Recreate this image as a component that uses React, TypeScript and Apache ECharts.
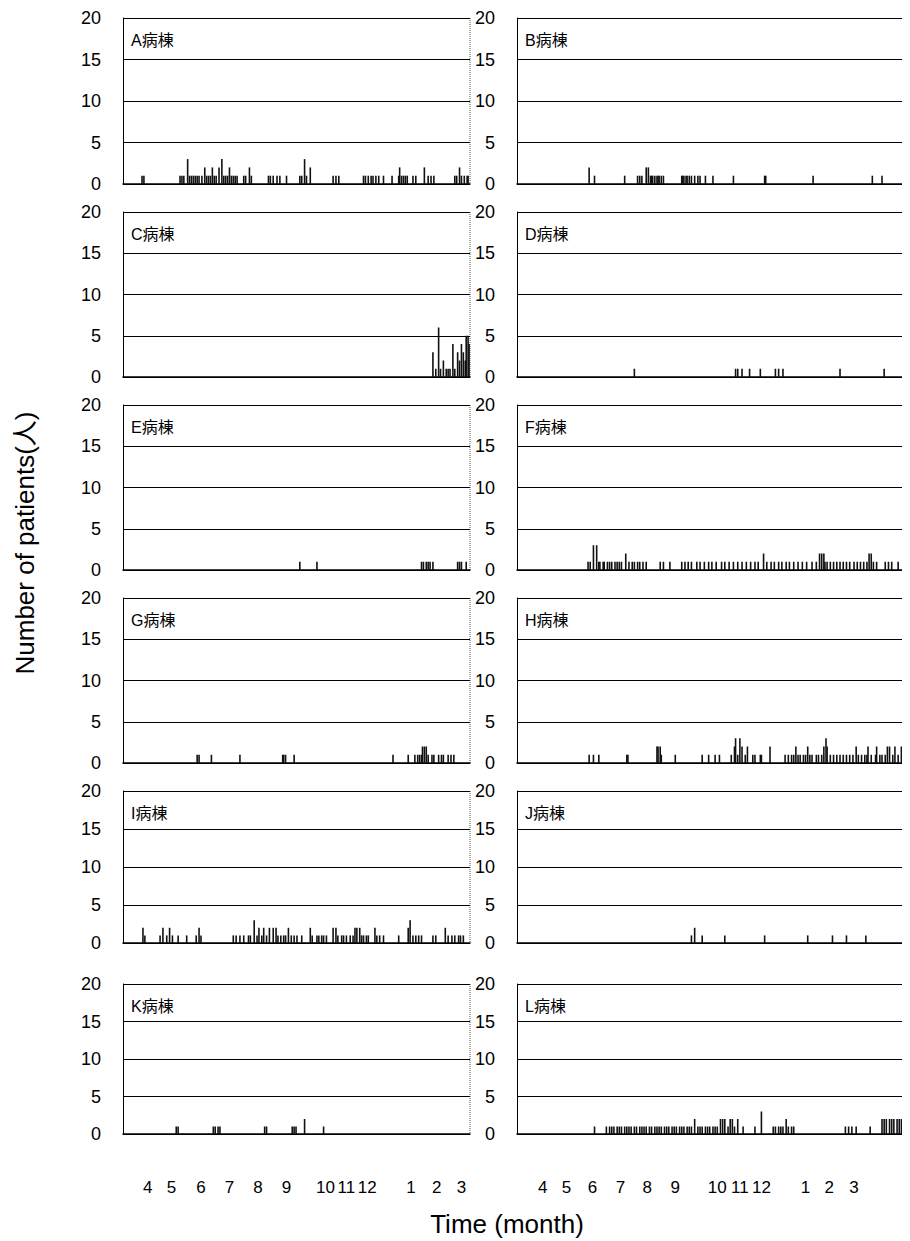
import React, { useEffect, useRef } from "react";
import * as echarts from "echarts";

// ---- DATA ----
const wards = ["A病棟", "B病棟", "C病棟", "D病棟", "E病棟", "F病棟", "G病棟", "H病棟", "I病棟", "J病棟", "K病棟", "L病棟"];
const yTicks = [0, 5, 10, 15, 20];
const monthLabels = ["4", "5", "6", "7", "8", "9", "10", "11", "12", "1", "2", "3"];
// positions (day of fiscal year) where each month label sits, left and right column
const monthLabelDaysLeft = [26, 51, 82, 112, 142, 172, 213, 235, 257, 303, 330, 356];
const monthLabelDaysRight = [24, 46, 70, 96, 121, 147, 186, 207, 227, 268, 290, 313];

// [day, patients]
const wardA = [[20,1],[22,1],[60,1],[62,1],[64,1],[68,3],[70,1],[72,1],[74,1],[76,1],[78,1],[80,1],[83,1],[86,2],[88,1],[90,1],[92,1],[94,2],[96,1],[98,1],[101,2],[104,3],[106,1],[108,1],[110,1],[112,2],[114,1],[116,1],[118,1],[120,1],[127,1],[129,1],[133,2],[135,1],[153,1],[155,1],[158,1],[162,1],[165,1],[172,1],[186,1],[188,1],[191,3],[193,1],[197,2],[221,1],[224,1],[227,1],[253,1],[255,1],[258,1],[261,1],[263,1],[266,1],[269,1],[274,1],[283,1],[290,1],[291,2],[293,1],[295,1],[297,1],[299,1],[305,1],[308,1],[317,2],[321,1],[324,1],[327,1],[349,1],[351,1],[354,2],[356,1],[359,1],[362,1],[363,1]];
const wardB = [[67,2],[72,1],[100,1],[112,1],[114,1],[116,1],[120,2],[122,2],[124,1],[125,1],[126,1],[128,1],[130,1],[131,1],[132,1],[134,1],[136,1],[153,1],[154,1],[155,1],[157,1],[158,1],[160,1],[162,1],[165,1],[168,1],[170,1],[175,1],[182,1],[201,1],[230,1],[231,1],[275,1],[330,1],[339,1],[362,1]];
const wardC = [[326,3],[329,1],[332,6],[334,1],[337,2],[340,1],[342,1],[344,1],[347,4],[349,1],[352,3],[354,2],[356,4],[358,3],[360,2],[361,5],[363,5],[364,4]];
const wardD = [[109,1],[203,1],[205,1],[209,1],[216,1],[226,1],[240,1],[243,1],[247,1],[300,1],[341,1]];
const wardE = [[186,1],[204,1],[314,1],[316,1],[319,1],[321,1],[323,1],[326,1],[352,1],[354,1],[356,1],[361,1]];
const wardF = [[66,1],[68,1],[71,3],[74,3],[76,1],[77,1],[80,1],[81,1],[84,1],[86,1],[88,1],[91,1],[93,1],[95,1],[97,1],[101,2],[104,1],[107,1],[109,1],[112,1],[114,1],[117,1],[120,1],[133,1],[136,1],[142,1],[153,1],[156,1],[159,1],[162,1],[167,1],[170,1],[174,1],[178,1],[181,1],[185,1],[190,1],[193,1],[197,1],[201,1],[205,1],[209,1],[213,1],[217,1],[221,1],[224,1],[229,2],[232,1],[236,1],[239,1],[243,1],[246,1],[250,1],[253,1],[257,1],[261,1],[265,1],[269,1],[274,1],[278,1],[281,2],[283,2],[285,2],[286,1],[288,1],[291,1],[294,1],[297,1],[300,1],[303,1],[306,1],[309,1],[313,1],[316,1],[319,1],[322,1],[325,1],[327,2],[329,2],[331,1],[334,1],[342,1],[345,1],[348,1],[354,1],[359,1],[363,1]];
const wardG = [[78,1],[80,1],[93,1],[123,1],[168,1],[169,1],[171,1],[180,1],[284,1],[300,1],[307,1],[310,1],[312,1],[314,1],[315,2],[317,2],[319,2],[321,1],[325,1],[327,1],[332,1],[335,1],[337,1],[342,1],[345,1],[348,1]];
const wardH = [[67,1],[71,1],[76,1],[102,1],[103,1],[130,2],[131,2],[133,2],[134,1],[147,1],[172,1],[178,1],[184,1],[188,1],[199,1],[202,2],[203,3],[205,1],[207,3],[209,2],[212,1],[214,2],[219,1],[221,1],[226,1],[227,1],[235,2],[249,1],[252,1],[255,1],[257,1],[259,2],[261,1],[263,1],[266,1],[268,1],[270,2],[272,1],[274,1],[278,1],[280,1],[283,1],[285,2],[287,3],[288,2],[291,1],[294,1],[297,1],[300,1],[303,1],[306,1],[309,1],[312,1],[315,2],[317,1],[320,1],[323,1],[325,1],[326,2],[329,1],[333,1],[334,2],[337,1],[339,1],[342,1],[344,2],[346,2],[349,1],[351,2],[354,1],[357,2],[360,1],[363,1]];
const wardI = [[21,2],[23,1],[39,1],[42,2],[46,1],[49,2],[52,1],[58,1],[67,1],[77,1],[80,2],[82,1],[116,1],[119,1],[123,1],[127,1],[132,1],[134,1],[138,3],[141,1],[143,2],[146,1],[148,2],[151,1],[154,2],[158,2],[161,2],[163,1],[166,1],[169,1],[171,1],[174,2],[177,1],[180,1],[183,1],[188,1],[197,2],[199,1],[204,1],[206,1],[209,1],[211,1],[214,1],[221,2],[224,2],[226,1],[230,1],[232,1],[235,1],[239,1],[242,1],[244,2],[246,2],[249,2],[251,1],[253,1],[256,1],[258,1],[265,2],[267,1],[270,1],[274,1],[290,1],[300,2],[302,3],[305,1],[308,1],[311,1],[314,1],[326,1],[329,1],[339,2],[342,1],[346,1],[349,1],[353,1],[355,1],[358,1]];
const wardJ = [[162,1],[165,2],[172,1],[193,1],[230,1],[270,1],[293,1],[306,1],[324,1]];
const wardK = [[56,1],[58,1],[95,1],[97,1],[100,1],[102,1],[149,1],[151,1],[178,1],[180,1],[182,1],[191,2],[211,1]];
const wardL = [[72,1],[83,1],[86,1],[88,1],[90,1],[93,1],[95,1],[97,1],[100,1],[102,1],[104,1],[106,1],[109,1],[111,1],[114,1],[116,1],[118,1],[120,1],[123,1],[125,1],[128,1],[130,1],[132,1],[134,1],[137,1],[139,1],[141,1],[144,1],[146,1],[148,1],[151,1],[153,1],[155,1],[158,1],[160,1],[162,1],[165,2],[168,1],[170,1],[172,1],[175,1],[177,1],[179,1],[182,1],[184,1],[186,1],[189,2],[191,2],[193,2],[196,1],[198,2],[200,2],[202,1],[205,2],[210,1],[221,1],[227,3],[238,1],[240,1],[243,1],[245,1],[247,1],[250,2],[252,1],[255,1],[257,1],[305,1],[308,1],[311,1],[315,1],[328,1],[339,2],[341,2],[343,2],[346,2],[348,2],[350,2],[353,2],[355,2],[357,2],[360,1]];
const wardData = [wardA, wardB, wardC, wardD, wardE, wardF, wardG, wardH, wardI, wardJ, wardK, wardL];

// ---- LAYOUT ----
const CW = 902;
const CH = 1233;
const OFF = 8;
const colLeft = [123 - OFF, 517 - OFF];
const colWidth = [347, 910 - 517];
const rowTop = [18, 212, 405, 598, 791, 984].map((v) => v - OFF);
const rowBottom = [184, 377, 570, 763, 943, 1134].map((v) => v - OFF);
const FONT = "'Liberation Sans', 'Noto Sans CJK JP', sans-serif";

export default function App() {
  const ref = useRef<HTMLDivElement>(null);
  useEffect(() => {
    if (!ref.current) return;
    const chart = echarts.init(ref.current, null, { renderer: "svg" });
    const grid: any[] = [];
    const xAxis: any[] = [];
    const yAxis: any[] = [];
    const series: any[] = [];
    const graphic: any[] = [];
    wardData.forEach((d, i) => {
      const col = i % 2;
      const row = Math.floor(i / 2);
      const left = colLeft[col];
      const top = rowTop[row];
      const height = rowBottom[row] - rowTop[row];
      const width = colWidth[col];
      grid.push({ left, top, width, height, containLabel: false });
      const isBottom = row === 5;
      const labelDays = col === 0 ? monthLabelDaysLeft : monthLabelDaysRight;
      xAxis.push({
        type: "value",
        gridIndex: i,
        min: 0,
        max: 365,
        splitLine: { show: false },
        axisTick: { show: false },
        axisLine: { show: true, lineStyle: { color: "#000", width: 1.5 } },
        axisLabel: isBottom
          ? {
              show: true,
              customValues: labelDays,
              formatter: (v: number) => {
                const k = labelDays.indexOf(v);
                return k >= 0 ? monthLabels[k] : "";
              },
              color: "#000",
              fontSize: 17,
              fontFamily: FONT,
              margin: 45,
            }
          : { show: false },
      });
      yAxis.push({
        type: "value",
        gridIndex: i,
        min: yTicks[0],
        max: yTicks[yTicks.length - 1],
        interval: 5,
        axisLine: { show: true, lineStyle: { color: "#000", width: 1 } },
        axisTick: { show: false },
        splitLine: { show: true, lineStyle: { color: "#000", width: 1.2 } },
        axisLabel: { color: "#000", fontSize: 18, fontFamily: FONT, margin: 22 },
      });
      series.push({
        type: "bar",
        xAxisIndex: i,
        yAxisIndex: i,
        data: d,
        barWidth: 1.6,
        itemStyle: { color: "#111" },
        silent: true,
      });
      graphic.push({
        type: "text",
        left: left + 8,
        top: top + 14,
        style: { text: wards[i], fontSize: 16, fontFamily: FONT, fill: "#000" },
      });
      if (col === 0) {
        graphic.push({
          type: "line",
          shape: { x1: left + width, y1: top, x2: left + width, y2: top + height },
          style: { stroke: "#555", lineWidth: 1, lineDash: [1, 1] },
        });
      }
    });
    graphic.push({
      type: "text",
      x: 25 - OFF,
      y: 543 - OFF,
      rotation: Math.PI / 2,
      style: {
        text: "Number of patients(人)",
        fontSize: 26,
        fontFamily: FONT,
        fill: "#000",
        align: "center",
        verticalAlign: "middle",
      },
    });
    graphic.push({
      type: "text",
      x: 507 - OFF,
      y: 1224 - OFF,
      style: {
        text: "Time (month)",
        fontSize: 26,
        fontFamily: FONT,
        fill: "#000",
        align: "center",
        verticalAlign: "middle",
      },
    });
    chart.setOption({
      animation: false,
      backgroundColor: "#fff",
      grid,
      xAxis,
      yAxis,
      series,
      graphic,
    });
    return () => chart.dispose();
  }, []);
  return <div ref={ref} style={{ width: CW, height: CH }} />;
}
